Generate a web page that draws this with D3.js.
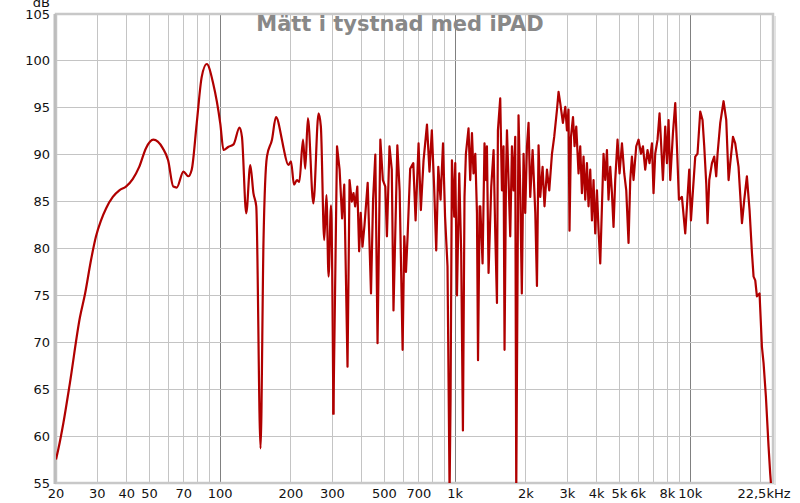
<!DOCTYPE html>
<html><head><meta charset="utf-8">
<script src="https://cdn.jsdelivr.net/npm/d3@7/dist/d3.min.js"></script>
<style>body{margin:0;background:#fff}svg{display:block}</style>
</head><body>
<svg id="c" width="800" height="503"></svg>
<script>
const title = "Mätt i tystnad med iPAD";
const yTicks = [55,60,65,70,75,80,85,90,95,100,105];
const xLabelVals = [20,30,40,50,70,100,200,300,500,700,1000,2000,3000,4000,5000,6000,8000,10000];
const xLabelText = ["20","30","40","50","70","100","200","300","500","700","1k","2k","3k","4k","5k","6k","8k","10k"];
const xEndLabel = "22,5kHz";
const xGrid = [20,30,40,50,60,70,80,90,100,200,300,400,500,600,700,800,900,1000,2000,3000,4000,5000,6000,7000,8000,9000,10000,20000];
const xMajor = [100,1000,10000];

// low, smooth part (20 Hz - 300 Hz)
const freqLow = [20,20.5,21.5,22.9,25.3,26.6,28.2,29.6,31.1,32.7,34.9,37.2,39.7,42.4,45.2,48.3,51.9,56.9,60,63.1,65.3,69.7,73.1,75.6,79.4,83.4,87.6,93.3,100,103.3,108.5,113.9,120.8,123.7,129,134.2,138.4,142.3,148.4,152.8,158,166,172.6,183,186,195,200,206,212,217,225,230,236,249,262,268,277,283,289,296,303];
const dbLow = [57.5,58.7,61.4,65.6,72.7,75.2,78.8,81.3,83.0,84.3,85.5,86.2,86.6,87.4,88.7,90.7,91.6,90.7,89.4,86.6,86.5,88.2,87.7,88.4,93.35,98.3,99.67,97.6,93.35,90.5,90.85,91.1,92.9,91.9,83.75,88.9,85.9,84.5,58.7,80.9,89.8,91.6,94.0,91.6,90.7,88.9,89.3,86.8,87.3,87.1,91.6,88.5,93.9,84.8,94.4,93.0,80.9,85.7,77.0,84.6,62.3];

// high, noisy part (300 Hz - 22.5 kHz)
const freqHigh = [303,314,322,330,337,348,355,363,369,375,383,390,396,403,411,424,438,447,457,467,480,492,504,512,525,537,546,567,580,597,607,617,627,643,663,678,698,714,733,758,777,795,813,830,847,866,887,905,927,946,955,968,990,1000,1017,1040,1060,1078,1095,1110,1139,1158,1178,1196,1217,1237,1250,1270,1278,1307,1332,1351,1364,1386,1423,1456,1480,1505,1519,1554,1580,1605,1621,1645,1660,1686,1714,1743,1770,1800,1818,1859,1890,1920,1953,1985,2019,2051,2085,2134,2191,2227,2262,2300,2353,2398,2456,2512,2580,2637,2710,2752,2798,2872,2940,2988,3034,3064,3108,3170,3219,3273,3347,3403,3460,3515,3574,3634,3692,3754,3817,3877,3942,4009,4073,4140,4210,4276,4348,4421,4490,4566,4643,4716,4795,4905,5002,5122,5238,5342,5463,5555,5648,5737,5891,6026,6170,6292,6433,6580,6710,6871,6979,7096,7259,7403,7527,7652,7827,7960,8086,8221,8441,8634,8779,8952,9218,9522,9683,9902,10070,10270,10503,10740,11029,11280,11470,11700,11847,12050,12370,12650,12900,13070,13420,13860,14230,14560,14800,15200,15540,16050,16600,16980,17420,17880,18310,18600,18910,19220,19720,20190,20510,20990,21540,21890,22200];
const dbHigh = [62.3,90.9,88.4,83.2,86.8,67.4,87.3,85.0,85.9,84.5,86.6,79.7,83.8,80.2,82.5,87.0,75.2,85.2,90.0,69.9,91.6,87.3,86.6,81.3,90.9,88.4,73.4,91.0,86.1,69.2,81.3,77.5,81.3,88.5,89.1,83.0,91.2,84.1,89.4,93.2,88.2,92.6,86.6,79.8,88.7,85.2,91.2,83.4,78.1,54,63.8,89.4,83.4,89.1,75.0,88.0,79.5,60.6,85.5,90.1,92.8,87.3,92.3,88.0,90.1,83.8,68.1,84.5,84.5,78.4,91.2,87.3,90.9,77.4,86.6,90.5,81.6,74.2,92.6,96.0,86.2,90.9,69.2,88.0,92.6,87.3,81.3,90.9,86.2,91.9,54,94.2,86.2,75.2,90.1,83.8,90.9,93.4,85.5,90.5,83.8,76.0,91.0,85.5,88.7,84.5,88.4,86.2,90.1,91.9,94.8,96.7,95.5,93.4,95.1,92.6,94.8,81.9,91.9,94.0,90.9,93.0,88.0,90.9,85.9,89.8,85.2,89.1,84.5,88.4,83.0,87.3,81.6,86.2,81.9,78.4,84.5,90.1,87.3,90.5,85.2,88.7,85.9,82.3,87.3,91.6,88.0,91.2,88.0,86.2,80.6,87.3,89.8,87.3,90.9,91.6,90.1,90.9,88.4,90.5,89.1,91.2,85.9,90.1,91.6,94.4,90.9,87.3,93.0,89.1,93.7,87.3,92.3,95.5,90.9,85.2,85.5,81.6,84.5,88.4,83.0,86.2,89.8,90.1,94.6,93.7,90.9,86.9,82.7,87.3,89.1,89.8,87.7,90.1,93.4,95.7,93.7,87.3,89.1,91.9,91.2,88.7,82.7,85.2,87.7,84.1,79.5,77.0,76.6,74.9,75.2,69.5,67.8,64.2,58.9,56.0,54];

const m = {l:56, r:773, t:14, b:483};
const svg = d3.select("#c");
const x = d3.scaleLog().domain([20,22500]).range([m.l, m.r]);
const y = d3.scaleLinear().domain([55,105]).range([m.b, m.t]);

// grid
const g = svg.append("g");
g.selectAll("line.v").data(xGrid).enter().append("line")
  .attr("x1", d=>x(d)).attr("x2", d=>x(d)).attr("y1", m.t).attr("y2", m.b)
  .attr("stroke", d=>xMajor.includes(d)?"#808080":"#c4c4c4").attr("stroke-width",1)
  .attr("shape-rendering","crispEdges");
g.selectAll("line.h").data(yTicks).enter().append("line")
  .attr("x1", m.l).attr("x2", m.r).attr("y1", d=>y(d)).attr("y2", d=>y(d))
  .attr("stroke","#c4c4c4").attr("stroke-width",1).attr("shape-rendering","crispEdges");

// frame
svg.append("rect").attr("x", m.l).attr("y", m.t).attr("width", m.r-m.l).attr("height", m.b-m.t)
  .attr("fill","none").attr("stroke","#c8c8c8").attr("stroke-width",2.5);
svg.append("line").attr("x1",m.l-1).attr("x2",m.l-1).attr("y1",m.t).attr("y2",m.b+1)
  .attr("stroke","#bdbdbd").attr("stroke-width",3);
svg.append("line").attr("x1",m.r+2).attr("x2",m.r+2).attr("y1",m.t+2).attr("y2",m.b+2)
  .attr("stroke","#e2e2e2").attr("stroke-width",2);

// clip + lines
svg.append("clipPath").attr("id","clip").append("rect")
  .attr("x", m.l).attr("y", m.t).attr("width", m.r-m.l).attr("height", m.b-m.t);
const lowPts = freqLow.map((f,i)=>[f, dbLow[i]]);
const highPts = freqHigh.map((f,i)=>[f, dbHigh[i]]);
const lineSmooth = d3.line().x(d=>x(d[0])).y(d=>y(d[1])).curve(d3.curveMonotoneX);
const lineRaw = d3.line().x(d=>x(d[0])).y(d=>y(d[1])).curve(d3.curveLinear);
const cg = svg.append("g").attr("clip-path","url(#clip)");
cg.append("path").attr("d", lineSmooth(lowPts))
  .attr("fill","none").attr("stroke","#b00000").attr("stroke-width",2.2).attr("stroke-linejoin","round");
cg.append("path").attr("d", lineRaw(highPts))
  .attr("fill","none").attr("stroke","#b00000").attr("stroke-width",2.2).attr("stroke-linejoin","round");

// axes labels
const font = "DejaVu Sans, sans-serif";
svg.append("g").selectAll("text").data(yTicks).enter().append("text")
  .attr("x", 50).attr("y", d=>y(d)+4.5).attr("text-anchor","end")
  .attr("font-family", font).attr("font-size", 13).attr("fill","#111").text(d=>d);
svg.append("text").attr("x", 50).attr("y", 7).attr("text-anchor","end")
  .attr("font-family", font).attr("font-size", 13).attr("fill","#111").text("dB");
svg.append("g").selectAll("text").data(xLabelVals).enter().append("text")
  .attr("x", d=>x(d)).attr("y", 498).attr("text-anchor","middle")
  .attr("font-family", font).attr("font-size", 13).attr("fill","#111")
  .text((d,i)=>xLabelText[i]);
svg.append("text").attr("x", x(20000)+3).attr("y", 498).attr("text-anchor","middle")
  .attr("font-family", font).attr("font-size", 13).attr("fill","#111").text(xEndLabel);

// title
svg.append("text").attr("x", 400).attr("y", 31).attr("text-anchor","middle")
  .attr("font-family", font).attr("font-weight","bold").attr("font-size", 21)
  .attr("fill","#888").text(title);
</script>
</body></html>
